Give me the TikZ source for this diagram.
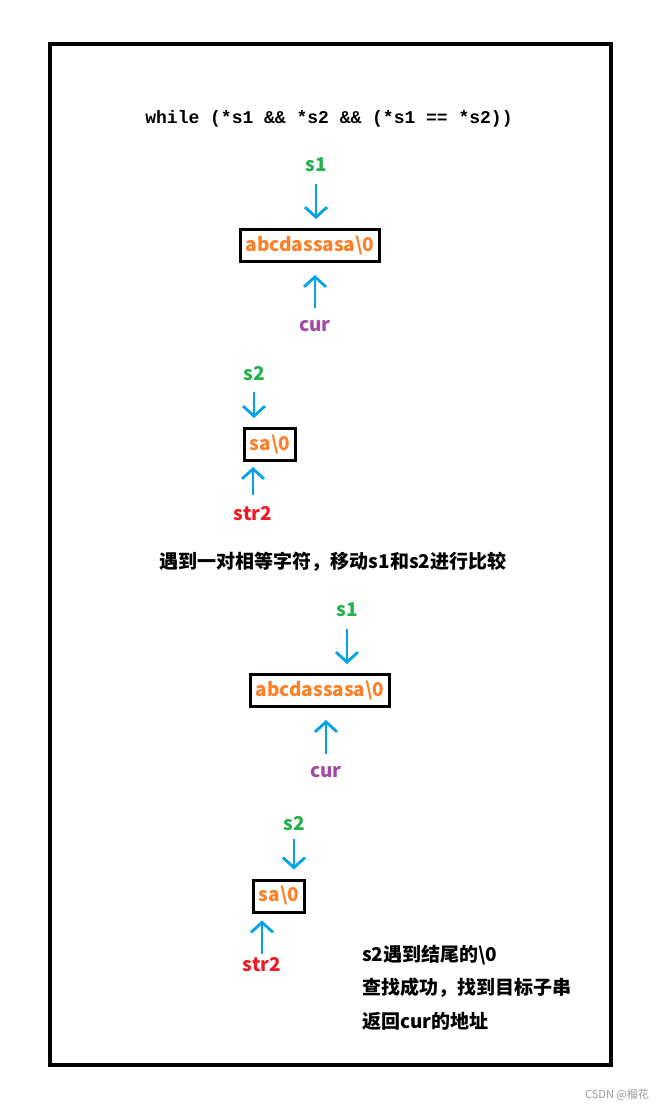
\documentclass[tikz,border=0pt]{standalone}
\usepackage{fontspec}
\newfontfamily\cjkfont{Noto Sans CJK SC}
\setmonofont{Liberation Mono}
\usetikzlibrary{arrows.meta, positioning}
\definecolor{cgreen}{HTML}{22B14C}
\definecolor{cpurple}{HTML}{A349A4}
\definecolor{cred}{HTML}{ED1C24}
\definecolor{corange}{HTML}{FF7F27}
\definecolor{cblue}{HTML}{00A2E8}
\definecolor{cgrey}{HTML}{9A9A9A}
\tikzset{
  lbl/.style={font=\cjkfont\bfseries\fontsize{19pt}{22pt}\selectfont, text=#1, inner sep=1pt},
  lbl/.default=black,
  strbox/.style={draw=black, line width=3pt, font=\cjkfont\bfseries\fontsize{19pt}{22pt}\selectfont, text=corange, inner xsep=5pt, minimum height=32pt},
  ptr/.style={-{Straight Barb[length=10pt, width=22pt]}, draw=cblue, line width=2.8pt},
  note/.style={font=\cjkfont\bfseries\fontsize{19pt}{22pt}\selectfont, anchor=west, inner sep=0pt},
  code/.style={font=\ttfamily\bfseries\fontsize{18pt}{20pt}\selectfont},
}
\begin{document}
\begin{tikzpicture}[x=1pt, y=-1pt]
  \useasboundingbox (0,0) rectangle (665,1111);
  \fill[white] (0,0) rectangle (665,1111);
  \draw[line width=4pt] (50,44) rectangle (611,1065);
  \node[code] (cond) at (329,119) {while (*s1 \&\& *s2 \&\& (*s1 == *s2))};
  % first step
  \node[strbox] (stra) at (310,245.5) {abcdassasa\textbackslash 0};
  \node[lbl=cgreen] (s1a) at (316,165) {s1};
  \node[lbl=cpurple] (cura) at (315,326) {cur};
  \draw[ptr, shorten <=11pt, shorten >=9pt] (s1a.south) -- (s1a.south |- stra.north);
  \draw[ptr, shorten <=11pt, shorten >=12pt] (cura.north) -- (cura.north |- stra.south);
  \node[strbox] (subb) at (270,444.5) {sa\textbackslash 0};
  \node[lbl=cgreen] (s2a) at (254,374) {s2};
  \node[lbl=cred] (str2a) at (253,514) {str2};
  \draw[ptr, shorten <=10pt, shorten >=9pt] (s2a.south) -- (s2a.south |- subb.north);
  \draw[ptr, shorten <=11pt, shorten >=5pt] (str2a.north) -- (str2a.north |- subb.south);
  \node[lbl] (msga) at (333,562) {遇到一对相等字符，移动s1和s2进行比较};
  % second step
  \node[strbox] (strc) at (320,690.5) {abcdassasa\textbackslash 0};
  \node[lbl=cgreen] (s1b) at (347,610) {s1};
  \node[lbl=cpurple] (curb) at (326,772) {cur};
  \draw[ptr, shorten <=11pt, shorten >=9pt] (s1b.south) -- (s1b.south |- strc.north);
  \draw[ptr, shorten <=11pt, shorten >=12pt] (curb.north) -- (curb.north |- strc.south);
  \node[strbox] (subd) at (279,896) {sa\textbackslash 0};
  \node[lbl=cgreen] (s2b) at (294,824) {s2};
  \node[lbl=cred] (str2b) at (262,965) {str2};
  \draw[ptr, shorten <=7pt, shorten >=9pt] (s2b.south) -- (s2b.south |- subd.north);
  \draw[ptr, shorten <=3pt, shorten >=7pt] (str2b.north) -- (str2b.north |- subd.south);
  \node[note] (msgb) at (362,955) {s2遇到结尾的\textbackslash 0};
  \node[note] (msgc) at (362,988) {查找成功，找到目标子串};
  \node[note] (msgd) at (362,1021) {返回cur的地址};
  \node[font=\cjkfont\fontsize{11pt}{13pt}\selectfont, text=cgrey] (mark) at (617,1095) {CSDN @榴花};
\end{tikzpicture}
\end{document}
